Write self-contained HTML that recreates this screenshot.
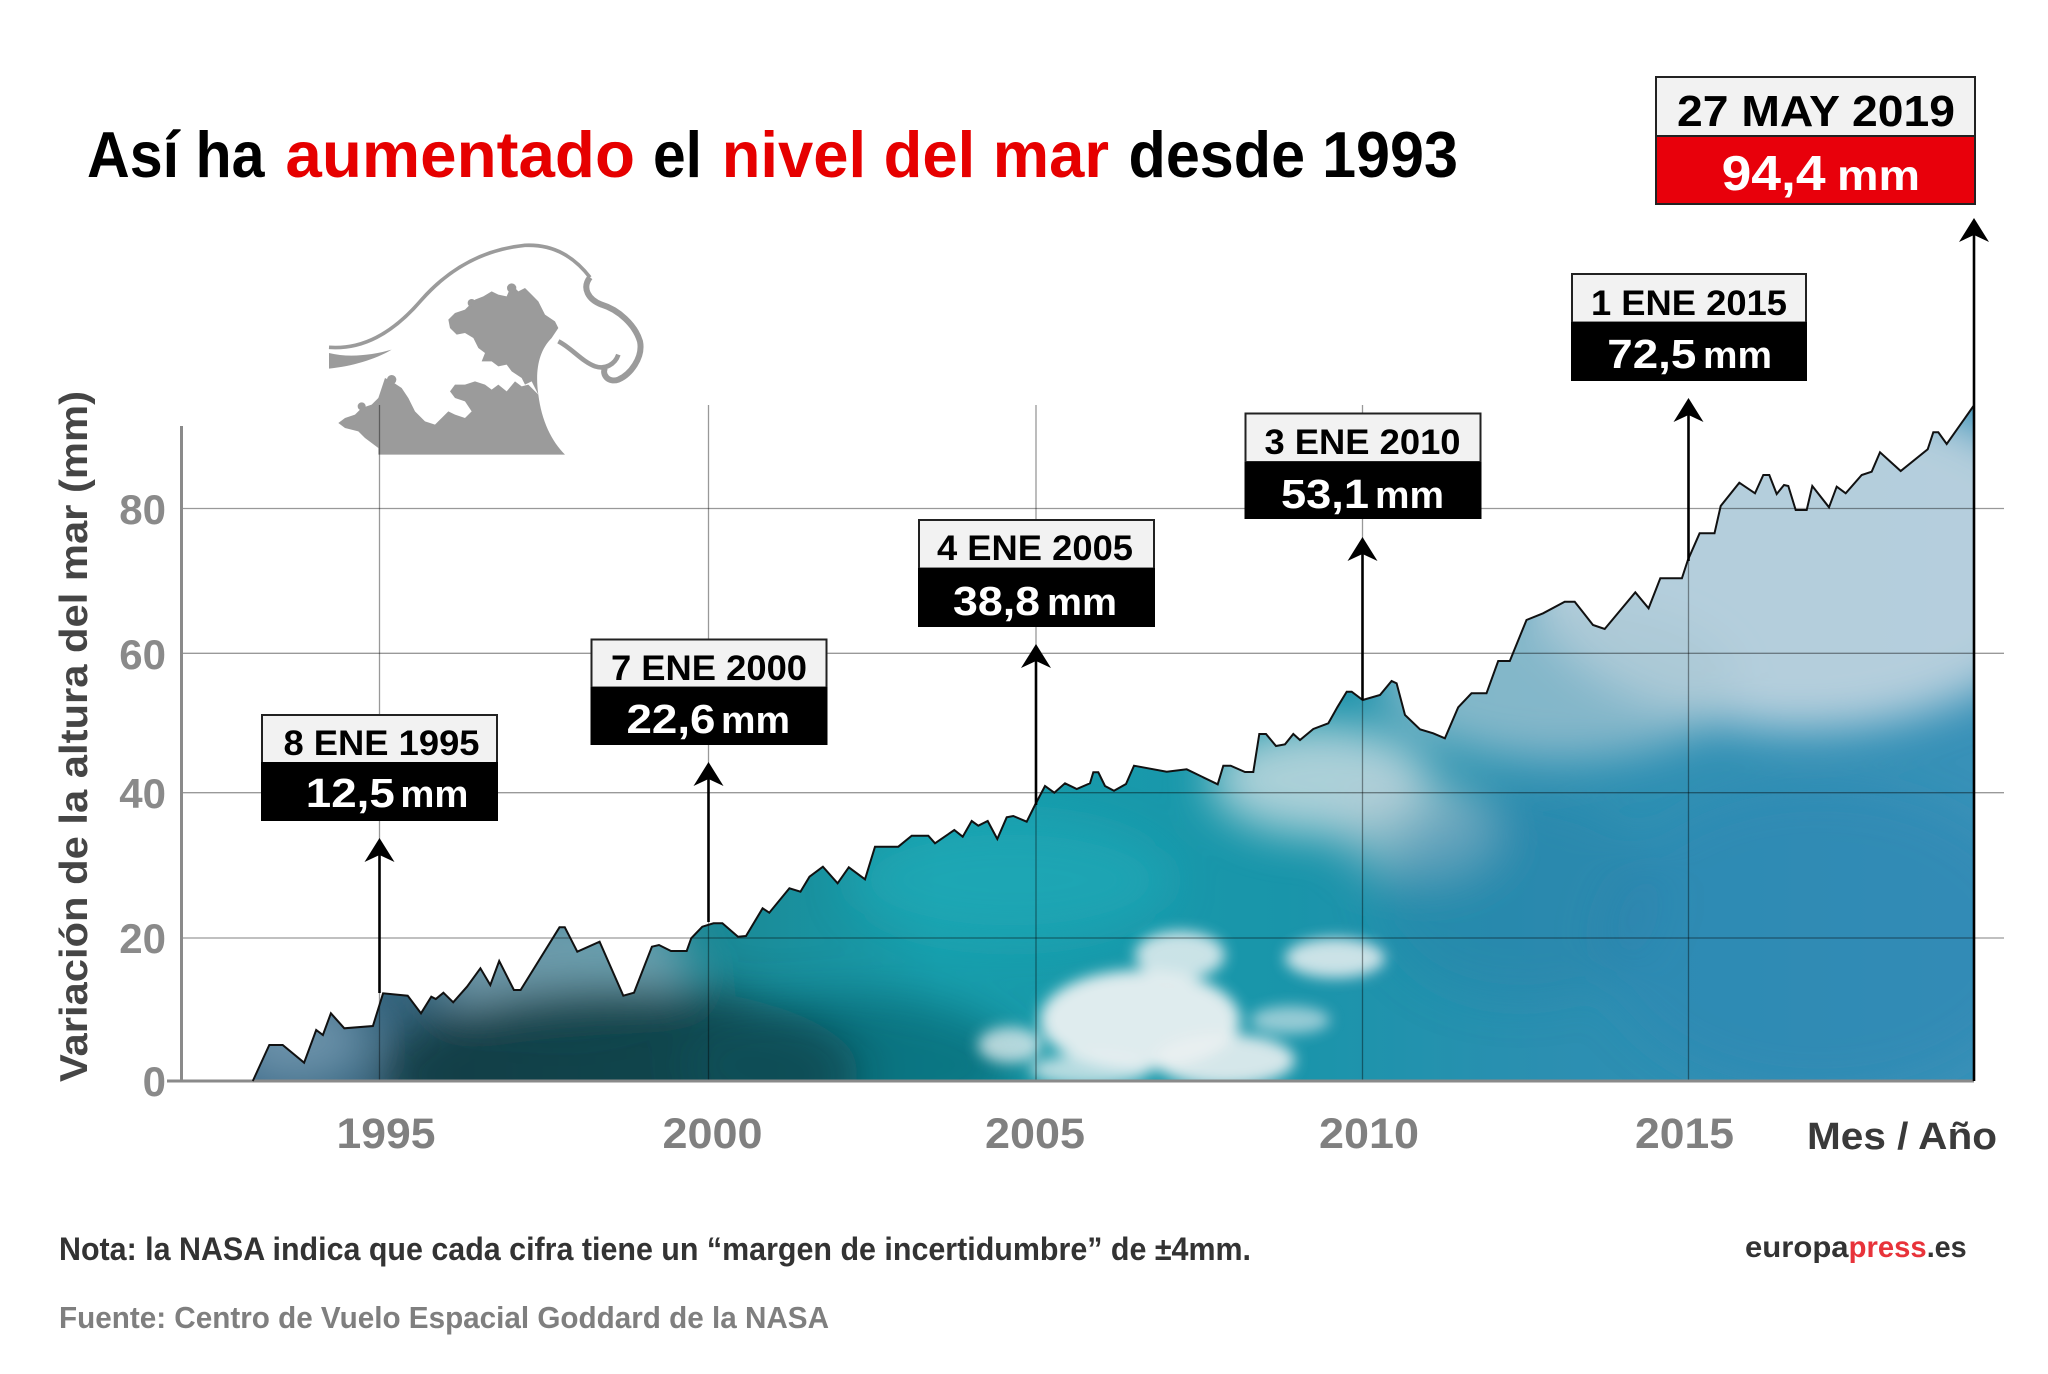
<!DOCTYPE html>
<html>
<head>
<meta charset="utf-8">
<style>
html,body{margin:0;padding:0;background:#fff;}
svg{display:block;}
</style>
</head>
<body>
<svg width="2048" height="1374" viewBox="0 0 2048 1374" xmlns="http://www.w3.org/2000/svg" font-family="'Liberation Sans', sans-serif" font-weight="bold">
<defs>
  <clipPath id="area">
    <polygon points="252.8,1081 269.3,1045 282.7,1045 304.1,1062.7 316.2,1030 322.9,1035 330.9,1013.3 344.3,1028.3 372.9,1026 383.1,993.3 407.7,995.7 421,1013.3 431.3,996.7 435.8,999 443.4,992.7 453.2,1002.3 467,986.7 480.4,968.3 490.3,985 499.2,961 513.9,990 520.6,990 559.5,927.3 564.8,927.3 577.3,951.7 599.6,941.7 623.3,995.7 634,992.7 651.9,946.7 659,945 671,951 686.7,951 691.2,938.3 702.3,926.7 713.5,923.3 722.4,923.3 738,936.7 746,936 762.6,908.3 769.3,912.7 789.4,888.3 800.5,891.7 809.5,876.7 822.9,866.7 837.6,883.3 848.8,867.3 865,879.3 875,846.7 898.3,846.7 911.7,835.7 928.3,835.7 935,843.3 954.3,830 962.7,836.7 971.7,821 978.3,825.7 987.7,821 997.3,839 1006.7,817.3 1013.3,816 1026.7,821.7 1035,805 1045,786 1054.3,792.7 1065,783.3 1076.7,789 1090,783.3 1093.3,772.3 1098.3,772.3 1105,786 1114,790.7 1126,784 1134,765.7 1166.7,771.7 1186.7,769.3 1217.7,784.3 1223.3,765.7 1230.7,765.7 1245,772 1253.3,772 1259.3,734 1266,734 1276,746 1285,744.3 1293.3,734 1300,740 1313.3,729 1328.3,723.3 1337.3,707.3 1346.7,691.7 1351.7,691.7 1362.7,700 1380,695 1391.6,681 1396.6,683.3 1405,715 1420,729.3 1433.2,733.3 1444.9,738.3 1458.2,707.3 1471.5,693.3 1486.5,693.3 1498.2,661 1509.8,661 1526.5,620 1543.1,613.3 1564.7,601.7 1574.7,601.7 1593,625 1604.7,629 1635.3,592.3 1648.6,608.3 1660.3,578.3 1681.9,578.3 1687.9,560 1699.6,533.3 1714.5,533.3 1720.7,506 1739.3,482.7 1755,493.3 1763.3,475 1769.3,475 1776.7,494 1784,485 1788.3,486 1795.7,510 1806.7,510 1812.3,486 1829,507.3 1836.7,486.7 1845.7,493.3 1861.7,475 1871.7,471.7 1880,452.3 1900.7,471 1927.7,449.3 1933.3,432.3 1938.3,432.3 1946.7,444 1973.5,406 1973.5,1081"/>
  </clipPath>
  <linearGradient id="base" x1="250" y1="0" x2="1974" y2="0" gradientUnits="userSpaceOnUse">
    <stop offset="0" stop-color="#3f6c8a"/>
    <stop offset="0.12" stop-color="#2e5f76"/>
    <stop offset="0.22" stop-color="#1b808d"/>
    <stop offset="0.40" stop-color="#189eac"/>
    <stop offset="0.60" stop-color="#1995aa"/>
    <stop offset="0.75" stop-color="#2b8fb1"/>
    <stop offset="1" stop-color="#3891b8"/>
  </linearGradient>
  <filter id="blur" filterUnits="userSpaceOnUse" x="0" y="300" width="2048" height="900">
    <feGaussianBlur stdDeviation="22"/>
  </filter>
  <filter id="blur2" filterUnits="userSpaceOnUse" x="0" y="300" width="2048" height="900">
    <feGaussianBlur stdDeviation="7"/>
  </filter>
</defs>

<!-- Title -->
<g font-size="65">
  <text x="87" y="177" fill="#000" textLength="177.5" lengthAdjust="spacingAndGlyphs">Así ha</text>
  <text x="285.4" y="177" fill="#e60000" textLength="349.6" lengthAdjust="spacingAndGlyphs">aumentado</text>
  <text x="653" y="177" fill="#000" textLength="49" lengthAdjust="spacingAndGlyphs">el</text>
  <text x="721.7" y="177" fill="#e60000" textLength="387.3" lengthAdjust="spacingAndGlyphs">nivel del mar</text>
  <text x="1128.5" y="177" fill="#000" textLength="329.5" lengthAdjust="spacingAndGlyphs">desde 1993</text>
</g>

<!-- Area fill (photo approximation) -->
<g clip-path="url(#area)">
  <rect x="240" y="380" width="1750" height="710" fill="url(#base)"/>
  <g filter="url(#blur)">
    <ellipse cx="300" cy="1040" rx="70" ry="45" fill="#8fb0c5" opacity="0.55"/>
    <ellipse cx="560" cy="965" rx="130" ry="60" fill="#8aaebe" opacity="0.7"/>
    <ellipse cx="620" cy="1075" rx="240" ry="90" fill="#083a40" opacity="0.85"/>
    <ellipse cx="850" cy="1065" rx="170" ry="70" fill="#0a5560" opacity="0.55"/>
    <ellipse cx="1010" cy="880" rx="160" ry="60" fill="#25b0bc" opacity="0.5"/>
    <ellipse cx="1320" cy="780" rx="110" ry="55" fill="#d0dee3" opacity="0.8"/>
    <ellipse cx="1420" cy="830" rx="80" ry="50" fill="#b8ccd4" opacity="0.6"/>
    <ellipse cx="1800" cy="560" rx="280" ry="170" fill="#bcd2de" opacity="0.95"/>
    <ellipse cx="1560" cy="680" rx="180" ry="80" fill="#a9c7d4" opacity="0.7"/>
    <ellipse cx="1820" cy="940" rx="220" ry="150" fill="#2f86b4" opacity="0.45"/>
    <ellipse cx="1520" cy="900" rx="140" ry="100" fill="#2a7fa8" opacity="0.35"/>
  </g>
  <g filter="url(#blur2)" fill="#eaf0f1">
    <ellipse cx="1140" cy="1020" rx="100" ry="50" opacity="0.95"/>
    <ellipse cx="1225" cy="1060" rx="70" ry="26" opacity="0.9"/>
    <ellipse cx="1180" cy="955" rx="45" ry="24" opacity="0.85"/>
    <ellipse cx="1335" cy="958" rx="50" ry="20" opacity="0.85"/>
    <ellipse cx="1010" cy="1045" rx="32" ry="18" opacity="0.75"/>
    <ellipse cx="1090" cy="1070" rx="60" ry="16" opacity="0.75"/>
    <ellipse cx="1290" cy="1020" rx="40" ry="14" opacity="0.6"/>
  </g>
</g>

<!-- Wave illustration -->
<g transform="translate(325 238) scale(0.33333)" fill="#9b9b9b" stroke="none">
  <path d="M 12 328 C 110 335 200 290 290 185 C 370 95 470 35 600 22 C 690 18 750 60 795 118" stroke="#9b9b9b" stroke-width="11" fill="none"/>
  <path d="M 795 118 C 770 150 790 185 830 200 C 880 215 930 260 945 310 C 955 360 915 410 880 425 C 850 435 830 410 840 390" stroke="#9b9b9b" stroke-width="18" fill="none"/>
  <path d="M 700 310 C 740 330 770 370 810 385 C 840 395 870 380 880 350" stroke="#9b9b9b" stroke-width="14" fill="none"/>
  <path d="M 12 345 L 12 392 C 80 385 150 365 200 335 C 140 352 70 360 12 345 Z"/>
  <path d="M 640 470 C 630 400 640 340 680 300 L 700 270 L 690 250 L 660 230 L 640 190 L 620 170 L 600 150 L 580 160 L 560 140 L 545 175 L 520 170 L 500 160 L 475 175 L 450 185 L 435 200 L 420 215 L 390 225 L 370 245 L 375 270 L 395 290 L 420 285 L 445 300 L 460 330 L 480 345 L 470 370 L 500 370 L 520 385 L 545 380 L 560 400 L 590 420 L 600 440 L 620 430 Z"/>
  <path d="M 160 650 L 720 650 C 680 610 650 550 640 470 L 610 440 L 590 445 L 570 430 L 545 460 L 520 440 L 500 455 L 480 440 L 450 430 L 420 440 L 390 440 L 375 460 L 390 480 L 420 490 L 440 520 L 420 540 L 390 530 L 370 520 L 350 540 L 330 560 L 300 550 L 270 520 L 250 480 L 230 450 L 200 430 L 180 420 L 170 450 L 160 480 L 140 500 L 110 510 L 90 530 L 60 540 L 40 555 L 60 570 L 100 580 L 120 600 L 160 630 Z"/>
  <circle cx="560" cy="150" r="14"/>
  <circle cx="440" cy="195" r="12"/>
  <circle cx="200" cy="425" r="14"/>
  <circle cx="110" cy="505" r="12"/>
</g>

<!-- Gridlines -->
<g stroke="rgba(0,0,0,0.4)" stroke-width="1.3">
  <line x1="181" y1="508.5" x2="2004" y2="508.5"/>
  <line x1="181" y1="653.3" x2="2004" y2="653.3"/>
  <line x1="181" y1="792.7" x2="2004" y2="792.7"/>
  <line x1="181" y1="938" x2="2004" y2="938"/>
  <line x1="379.5" y1="405" x2="379.5" y2="1081"/>
  <line x1="708.5" y1="405" x2="708.5" y2="1081"/>
  <line x1="1036" y1="405" x2="1036" y2="1081"/>
  <line x1="1362.5" y1="405" x2="1362.5" y2="1081"/>
  <line x1="1688.5" y1="405" x2="1688.5" y2="1081"/>
</g>

<!-- Axes -->
<line x1="181.5" y1="426" x2="181.5" y2="1082" stroke="#8a8a8a" stroke-width="3"/>
<line x1="167" y1="1081" x2="1974" y2="1081" stroke="#8a8a8a" stroke-width="3"/>

<!-- Data outline -->
<polyline fill="none" stroke="#111" stroke-width="2" stroke-linejoin="miter" points="252.8,1081 269.3,1045 282.7,1045 304.1,1062.7 316.2,1030 322.9,1035 330.9,1013.3 344.3,1028.3 372.9,1026 383.1,993.3 407.7,995.7 421,1013.3 431.3,996.7 435.8,999 443.4,992.7 453.2,1002.3 467,986.7 480.4,968.3 490.3,985 499.2,961 513.9,990 520.6,990 559.5,927.3 564.8,927.3 577.3,951.7 599.6,941.7 623.3,995.7 634,992.7 651.9,946.7 659,945 671,951 686.7,951 691.2,938.3 702.3,926.7 713.5,923.3 722.4,923.3 738,936.7 746,936 762.6,908.3 769.3,912.7 789.4,888.3 800.5,891.7 809.5,876.7 822.9,866.7 837.6,883.3 848.8,867.3 865,879.3 875,846.7 898.3,846.7 911.7,835.7 928.3,835.7 935,843.3 954.3,830 962.7,836.7 971.7,821 978.3,825.7 987.7,821 997.3,839 1006.7,817.3 1013.3,816 1026.7,821.7 1035,805 1045,786 1054.3,792.7 1065,783.3 1076.7,789 1090,783.3 1093.3,772.3 1098.3,772.3 1105,786 1114,790.7 1126,784 1134,765.7 1166.7,771.7 1186.7,769.3 1217.7,784.3 1223.3,765.7 1230.7,765.7 1245,772 1253.3,772 1259.3,734 1266,734 1276,746 1285,744.3 1293.3,734 1300,740 1313.3,729 1328.3,723.3 1337.3,707.3 1346.7,691.7 1351.7,691.7 1362.7,700 1380,695 1391.6,681 1396.6,683.3 1405,715 1420,729.3 1433.2,733.3 1444.9,738.3 1458.2,707.3 1471.5,693.3 1486.5,693.3 1498.2,661 1509.8,661 1526.5,620 1543.1,613.3 1564.7,601.7 1574.7,601.7 1593,625 1604.7,629 1635.3,592.3 1648.6,608.3 1660.3,578.3 1681.9,578.3 1687.9,560 1699.6,533.3 1714.5,533.3 1720.7,506 1739.3,482.7 1755,493.3 1763.3,475 1769.3,475 1776.7,494 1784,485 1788.3,486 1795.7,510 1806.7,510 1812.3,486 1829,507.3 1836.7,486.7 1845.7,493.3 1861.7,475 1871.7,471.7 1880,452.3 1900.7,471 1927.7,449.3 1933.3,432.3 1938.3,432.3 1946.7,444 1973.5,406"/>

<!-- Arrows -->
<g stroke="#000" stroke-width="2.6">
  <line x1="379.5" y1="850" x2="379.5" y2="993"/>
  <line x1="708.5" y1="774" x2="708.5" y2="922"/>
  <line x1="1036" y1="656" x2="1036" y2="805"/>
  <line x1="1362.5" y1="549" x2="1362.5" y2="700"/>
  <line x1="1688.5" y1="410" x2="1688.5" y2="561"/>
  <line x1="1974" y1="230" x2="1974" y2="1081"/>
</g>
<g fill="#000">
  <path d="M379.5 838 L394.5 862 L379.5 855 L364.5 862 Z"/>
  <path d="M708.5 762 L723.5 786 L708.5 779 L693.5 786 Z"/>
  <path d="M1036 644 L1051 668 L1036 661 L1021 668 Z"/>
  <path d="M1362.5 537 L1377.5 561 L1362.5 554 L1347.5 561 Z"/>
  <path d="M1688.5 398 L1703.5 422 L1688.5 415 L1673.5 422 Z"/>
  <path d="M1974 218 L1989 242 L1974 235 L1959 242 Z"/>
</g>

<!-- Annotation boxes -->
<g>
  <rect x="262" y="715" width="235" height="48" fill="#f2f2f2" stroke="#222" stroke-width="2"/>
  <rect x="261" y="762" width="237" height="59" fill="#000"/>
  <text x="283.5" y="755" font-size="35" fill="#000" textLength="196" lengthAdjust="spacingAndGlyphs">8 ENE 1995</text>
  <text x="305.8" y="807" font-size="41" fill="#fff" textLength="89" lengthAdjust="spacingAndGlyphs">12,5</text>
  <text x="400.4" y="807" font-size="38" fill="#fff" textLength="68" lengthAdjust="spacingAndGlyphs">mm</text>

  <rect x="591.5" y="639.5" width="235" height="48" fill="#f2f2f2" stroke="#222" stroke-width="2"/>
  <rect x="590.5" y="687" width="237" height="58" fill="#000"/>
  <text x="611" y="680" font-size="35" fill="#000" textLength="196" lengthAdjust="spacingAndGlyphs">7 ENE 2000</text>
  <text x="626.5" y="733" font-size="41" fill="#fff" textLength="89" lengthAdjust="spacingAndGlyphs">22,6</text>
  <text x="721" y="733" font-size="38" fill="#fff" textLength="69" lengthAdjust="spacingAndGlyphs">mm</text>

  <rect x="919" y="520" width="235" height="48.5" fill="#f2f2f2" stroke="#222" stroke-width="2"/>
  <rect x="918" y="568" width="237" height="59" fill="#000"/>
  <text x="937" y="560" font-size="35" fill="#000" textLength="196" lengthAdjust="spacingAndGlyphs">4 ENE 2005</text>
  <text x="953" y="615" font-size="41" fill="#fff" textLength="87" lengthAdjust="spacingAndGlyphs">38,8</text>
  <text x="1047" y="615" font-size="38" fill="#fff" textLength="70" lengthAdjust="spacingAndGlyphs">mm</text>

  <rect x="1245.5" y="413.5" width="235" height="48.5" fill="#f2f2f2" stroke="#222" stroke-width="2"/>
  <rect x="1244.5" y="462" width="237" height="57" fill="#000"/>
  <text x="1264.5" y="454" font-size="35" fill="#000" textLength="196" lengthAdjust="spacingAndGlyphs">3 ENE 2010</text>
  <text x="1281" y="508" font-size="41" fill="#fff" textLength="88" lengthAdjust="spacingAndGlyphs">53,1</text>
  <text x="1375" y="508" font-size="38" fill="#fff" textLength="69" lengthAdjust="spacingAndGlyphs">mm</text>

  <rect x="1572" y="274" width="234" height="48.5" fill="#f2f2f2" stroke="#222" stroke-width="2"/>
  <rect x="1571" y="322" width="236" height="59" fill="#000"/>
  <text x="1591" y="315" font-size="35" fill="#000" textLength="196" lengthAdjust="spacingAndGlyphs">1 ENE 2015</text>
  <text x="1607.3" y="368" font-size="41" fill="#fff" textLength="89" lengthAdjust="spacingAndGlyphs">72,5</text>
  <text x="1703" y="368" font-size="38" fill="#fff" textLength="69" lengthAdjust="spacingAndGlyphs">mm</text>

  <rect x="1656" y="77" width="319" height="60" fill="#f2f2f2" stroke="#222" stroke-width="2"/>
  <rect x="1656" y="136" width="319" height="68" fill="#e8000b" stroke="#222" stroke-width="2"/>
  <text x="1677" y="126" font-size="44" fill="#000" textLength="278" lengthAdjust="spacingAndGlyphs">27 MAY 2019</text>
  <text x="1721.6" y="190" font-size="49" fill="#fff" textLength="104" lengthAdjust="spacingAndGlyphs">94,4</text>
  <text x="1837" y="190" font-size="43" fill="#fff" textLength="83" lengthAdjust="spacingAndGlyphs">mm</text>
</g>

<!-- Y axis label -->
<text transform="translate(87 1082) rotate(-90)" font-size="39" fill="#454545" textLength="691" lengthAdjust="spacingAndGlyphs">Variación de la altura del mar (mm)</text>

<!-- Y tick labels -->
<g font-size="42" fill="#8a8a8a" text-anchor="end">
  <text x="166" y="524">80</text>
  <text x="166" y="669">60</text>
  <text x="166" y="808">40</text>
  <text x="166" y="953">20</text>
  <text x="166" y="1096">0</text>
</g>

<!-- X tick labels -->
<g font-size="43" fill="#808080" text-anchor="middle">
  <text x="386" y="1148" textLength="99" lengthAdjust="spacingAndGlyphs">1995</text>
  <text x="712.5" y="1148" textLength="100" lengthAdjust="spacingAndGlyphs">2000</text>
  <text x="1035" y="1148" textLength="100" lengthAdjust="spacingAndGlyphs">2005</text>
  <text x="1369" y="1148" textLength="100" lengthAdjust="spacingAndGlyphs">2010</text>
  <text x="1684.5" y="1148" textLength="99" lengthAdjust="spacingAndGlyphs">2015</text>
</g>
<text x="1807" y="1149" font-size="38" fill="#3a3a3a" textLength="190" lengthAdjust="spacingAndGlyphs">Mes / Año</text>

<!-- Footer -->
<text x="59" y="1260" font-size="32" fill="#333" textLength="1192" lengthAdjust="spacingAndGlyphs">Nota: la NASA indica que cada cifra tiene un “margen de incertidumbre” de ±4mm.</text>
<text x="59" y="1328" font-size="31" fill="#7f7f7f" textLength="770" lengthAdjust="spacingAndGlyphs">Fuente: Centro de Vuelo Espacial Goddard de la NASA</text>
<g font-size="30">
  <text x="1745" y="1257" fill="#333" textLength="103.6" lengthAdjust="spacingAndGlyphs">europa</text>
  <text x="1848.6" y="1257" fill="#e8333a" textLength="78" lengthAdjust="spacingAndGlyphs">press</text>
  <text x="1926.7" y="1257" fill="#333" textLength="40" lengthAdjust="spacingAndGlyphs">.es</text>
</g>
</svg>
</body>
</html>
